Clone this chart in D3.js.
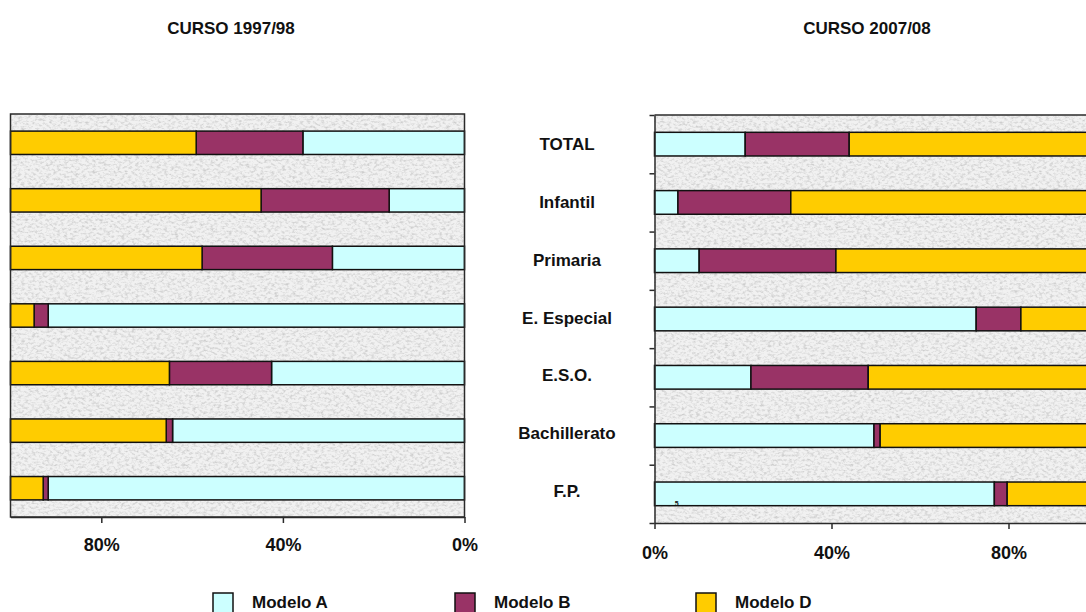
<!DOCTYPE html>
<html>
<head>
<meta charset="utf-8">
<script src="https://cdn.jsdelivr.net/npm/d3@7"></script>
<style>
  html, body { margin: 0; padding: 0; background: #fff; }
  svg { display: block; font-family: "Liberation Sans", Arial, sans-serif; }
</style>
</head>
<body>
<svg id="chart" width="1086" height="612"></svg>
<script>
// ---- data ----
const categories = ["TOTAL", "Infantil", "Primaria", "E. Especial", "E.S.O.", "Bachillerato", "F.P."];
const seriesNames = ["Modelo A", "Modelo B", "Modelo D"];
const seriesKeys = ["A", "B", "D"];
const colors = ["#CCFFFF", "#993366", "#FFCC00"];

const titles = ["CURSO 1997/98", "CURSO 2007/08"];

const curso9798_A = [35.6, 16.6, 29.1, 91.7, 42.5, 64.3, 91.7];
const curso9798_B = [23.5, 28.2, 28.7, 3.1, 22.5, 1.4, 1.1];
const curso9798_D = [40.9, 55.2, 42.2, 5.2, 35.0, 34.3, 7.2];

const curso0708_A = [20.5, 5.3, 10.1, 72.7, 21.8, 49.6, 76.8];
const curso0708_B = [23.5, 25.5, 30.9, 10.1, 26.5, 1.4, 2.9];
const curso0708_D = [56.0, 69.2, 59.0, 17.2, 51.7, 49.0, 20.3];

const tickValues = [0, 40, 80];

// ---- build ----
const svg = d3.select("#chart");
const defs = svg.append("defs");
const filt = defs.append("filter").attr("id", "granite")
  .attr("x", 0).attr("y", 0).attr("width", 1).attr("height", 1);
filt.append("feTurbulence").attr("type", "fractalNoise")
  .attr("baseFrequency", "0.28 0.42").attr("numOctaves", 3).attr("seed", 7).attr("result", "n");
filt.append("feColorMatrix").attr("in", "n").attr("type", "matrix")
  .attr("values", "0 0 0 0 0.62  0 0 0 0 0.62  0 0 0 0 0.62  2.6 0 0 0 -1.15");

function table(A, B, D) {
  return categories.map((c, i) => ({ cat: c, A: A[i], B: B[i], D: D[i] }));
}
const stack = d3.stack().keys(seriesKeys);

function drawPanel(cfg) {
  const data = table(cfg.A, cfg.B, cfg.D);
  const layers = stack(data);
  const x = d3.scaleLinear().domain([0, 100]).range(cfg.xRange);
  const y = d3.scaleBand().domain(categories).range([cfg.top, cfg.bottom])
    .paddingInner(0.594).paddingOuter(0.297);
  const x0 = Math.min(cfg.xRange[0], cfg.xRange[1]);
  const x1 = Math.max(cfg.xRange[0], cfg.xRange[1]);
  const g = svg.append("g");

  // textured background
  g.append("rect").attr("x", x0).attr("y", cfg.top).attr("width", x1 - x0)
    .attr("height", cfg.bottom - cfg.top).attr("fill", "#f1f1f1");
  g.append("rect").attr("x", x0).attr("y", cfg.top).attr("width", x1 - x0)
    .attr("height", cfg.bottom - cfg.top).attr("fill", "#fff").attr("filter", "url(#granite)");

  // bars
  layers.forEach((layer, li) => {
    g.selectAll(null).data(layer).enter().append("rect")
      .attr("x", d => Math.min(x(d[0]), x(d[1])))
      .attr("width", d => Math.abs(x(d[1]) - x(d[0])))
      .attr("y", d => y(d.data.cat))
      .attr("height", y.bandwidth())
      .attr("fill", colors[li])
      .attr("stroke", "#111").attr("stroke-width", 1.5);
  });

  // frame
  if (cfg.box) {
    g.append("rect").attr("x", x0).attr("y", cfg.top).attr("width", x1 - x0)
      .attr("height", cfg.bottom - cfg.top).attr("fill", "none")
      .attr("stroke", "#2a2a2a").attr("stroke-width", 1.5);
  } else {
    g.append("line").attr("x1", x0).attr("x2", x1).attr("y1", cfg.top).attr("y2", cfg.top)
      .attr("stroke", "#2a2a2a").attr("stroke-width", 1.5);
    const yi = d3.scaleLinear().domain([0, categories.length]).range([cfg.top, cfg.bottom]);
    const ya = g.append("g").attr("transform", `translate(${x0},0)`)
      .call(d3.axisLeft(yi).tickValues(d3.range(categories.length + 1)).tickFormat("").tickSizeInner(5).tickSizeOuter(0));
    ya.selectAll("path, line").attr("stroke", "#2a2a2a").attr("stroke-width", 1.5);
  }

  // x axis
  const xa = g.append("g").attr("transform", `translate(0,${cfg.bottom})`)
    .call(d3.axisBottom(x).tickValues(tickValues).tickFormat(d => d + "%")
      .tickSizeInner(6).tickSizeOuter(0).tickPadding(cfg.tickPad));
  xa.selectAll("path, line").attr("stroke", "#2a2a2a").attr("stroke-width", 1.5);
  xa.selectAll("text").attr("font-size", 18).attr("font-weight", "bold").attr("fill", "#111")
    .attr("font-family", "'Liberation Sans', Arial, sans-serif");

  // title
  svg.append("text").attr("x", cfg.titleX).attr("y", 34).attr("text-anchor", "middle")
    .attr("font-size", 17).attr("font-weight", "bold").attr("fill", "#111").text(cfg.title);
  return { x, y };
}

drawPanel({ A: curso9798_A, B: curso9798_B, D: curso9798_D, xRange: [464.5, 10.5],
  top: 114, bottom: 517, box: true, tickPad: 15, title: titles[0], titleX: 231 });
const right = drawPanel({ A: curso0708_A, B: curso0708_B, D: curso0708_D, xRange: [654.5, 1097],
  top: 115, bottom: 523, box: false, tickPad: 17, title: titles[1], titleX: 867 });

// small stray mark in the F.P. bar
svg.append("text").attr("x", right.x(5)).attr("y", 506).attr("text-anchor", "middle")
  .attr("font-size", 7).attr("font-weight", "bold").attr("fill", "#111").text("5");

// category labels
const yl = d3.scalePoint().domain(categories).range([144, 491]);
svg.append("g").selectAll("text").data(categories).enter().append("text")
  .attr("x", 567).attr("y", d => yl(d)).attr("dy", "0.36em").attr("text-anchor", "middle")
  .attr("font-size", 17).attr("font-weight", "bold").attr("fill", "#111").text(d => d);

// legend
const legX = [213, 455, 696];
const lg = svg.append("g");
seriesNames.forEach((n, i) => {
  lg.append("rect").attr("x", legX[i]).attr("y", 593).attr("width", 20).attr("height", 22)
    .attr("fill", colors[i]).attr("stroke", "#111").attr("stroke-width", 1.5);
  lg.append("text").attr("x", legX[i] + 39).attr("y", 608).attr("font-size", 17)
    .attr("font-weight", "bold").attr("fill", "#111").text(n);
});
</script>
</body>
</html>
